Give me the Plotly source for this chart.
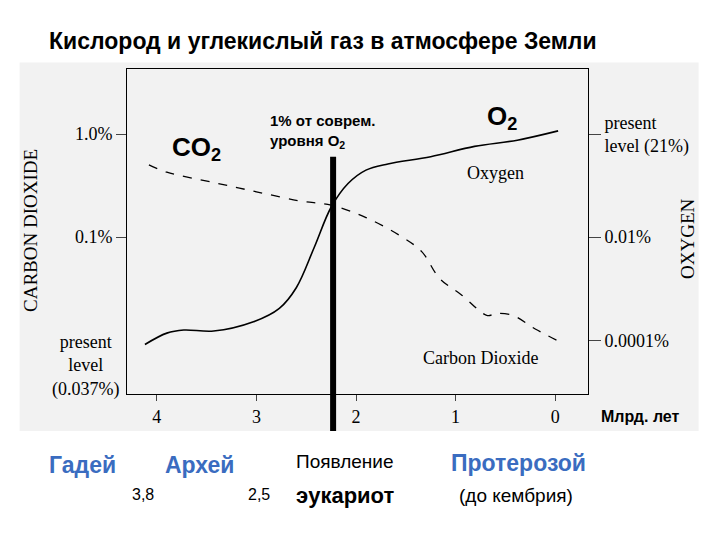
import plotly.graph_objects as go

# time, billions of years ago; level in decades (0 = lowest tick, 2 = top tick)
o2_time = [4.12, 3.90, 3.73, 3.43, 3.03, 2.77, 2.60, 2.42, 2.25, 2.08, 1.90, 1.68, 1.25, 0.81, 0.38, -0.03]
o2_level = [-0.04, 0.07, 0.10, 0.09, 0.18, 0.31, 0.51, 0.90, 1.29, 1.52, 1.65, 1.71, 1.78, 1.88, 1.94, 2.03]
co2_time = [4.08, 3.90, 3.43, 3.00, 2.56, 2.25, 1.90, 1.55, 1.34, 1.16, 0.94, 0.68, 0.60, 0.42, 0.20, -0.06]
co2_level = [1.70, 1.63, 1.53, 1.44, 1.35, 1.31, 1.19, 1.01, 0.86, 0.60, 0.44, 0.24, 0.26, 0.24, 0.11, -0.02]
x_ticks = [4, 3, 2, 1, 0]
left_vals = [2, 1]
left_labels = ["1.0%", "0.1%"]
right_vals = [2, 1, 0]
right_labels = ["present<br>level (21%)", "0.01%", "0.0001%"]
eukaryote_time = 2.23

serif = "Liberation Serif"
sans = "Liberation Sans"
blue = "#3a6cc0"
xr = [4.3, -0.33]
yr = [-0.52, 2.63]

fig = go.Figure()
fig.add_trace(go.Scatter(x=o2_time, y=o2_level, mode="lines", line=dict(color="black", width=1.6, shape="spline")))
fig.add_trace(go.Scatter(x=co2_time, y=co2_level, mode="lines",
                         line=dict(color="black", width=1.3, dash="dash", shape="spline")))
fig.add_trace(go.Scatter(x=[0], y=[0], yaxis="y2", mode="markers", marker=dict(opacity=0), hoverinfo="skip"))

fig.update_layout(
    width=720, height=540, showlegend=False,
    paper_bgcolor="white", plot_bgcolor="#ececec",
    font=dict(color="black"),
    margin=dict(l=119, r=140, t=61, b=154),
    xaxis=dict(range=xr, tickvals=x_ticks, ticks="outside", ticklen=6, showgrid=False, zeroline=False,
               showline=True, linecolor="black", mirror=True, tickfont=dict(family=serif, size=18, color="black")),
    yaxis=dict(range=yr, tickvals=left_vals, ticktext=left_labels, ticks="outside", ticklen=10, showgrid=False,
               zeroline=False, showline=True, linecolor="black", mirror=True,
               tickfont=dict(family=serif, size=18, color="black")),
    yaxis2=dict(range=yr, overlaying="y", side="right", tickvals=right_vals, ticktext=right_labels,
                ticks="outside", ticklen=12, showgrid=False, zeroline=False,
                tickfont=dict(family=serif, size=18, color="black")),
)

# scanned picture background
fig.add_shape(type="rect", xref="paper", yref="paper", x0=-0.233, x1=1.24, y0=-0.114, y1=1.02,
              fillcolor="#f2f2f2", line_width=0, layer="below")

# eukaryote line, in paper coords
px = (eukaryote_time - xr[0]) / (xr[1] - xr[0])
fig.add_shape(type="line", xref="paper", yref="paper", x0=px, x1=px, y0=0.73, y1=-0.114,
              line=dict(color="black", width=6))

ann = [
    dict(x=0.6, y=1.62, text="Oxygen", font=dict(family=serif, size=18)),
    dict(x=0.75, y=-0.17, text="Carbon Dioxide", font=dict(family=serif, size=18)),
    dict(x=3.6, y=1.86, text="<b>CO<sub>2</sub></b>", font=dict(family=sans, size=26)),
    dict(x=0.53, y=2.16, text="<b>O<sub>2</sub></b>", font=dict(family=sans, size=26)),
    dict(x=2.88, y=2.02, text="<b>1% от соврем.<br>уровня O<sub>2</sub></b>", xanchor="left", align="left",
         font=dict(family=sans, size=15)),
]
for a in ann:
    a.setdefault("xanchor", "center")
    a["font"]["color"] = "black"
    fig.add_annotation(xref="x", yref="y", showarrow=False, **a)

paper_txt = [
    (47, 40, "<b>Кислород и углекислый газ в атмосфере Земли</b>", 23, "black", sans, "left"),
    (85, 365, "present<br>level<br>(0.037%)", 18, "black", serif, "center"),
    (30, 230, "CARBON DIOXIDE", 19, "black", serif, "v"),
    (688, 238, "OXYGEN", 19, "black", serif, "v"),
    (640, 415, "<b>Млрд. лет</b>", 16, "black", sans, "center"),
    (47, 464, "<b>Гадей</b>", 23, blue, sans, "left"),
    (163, 464, "<b>Архей</b>", 23, blue, sans, "left"),
    (130, 493, "3,8", 16, "black", sans, "left"),
    (246, 493, "2,5", 16, "black", sans, "left"),
    (294, 461, "Появление", 19, "black", sans, "left"),
    (294, 494, "<b>эукариот</b>", 22, "black", sans, "left"),
    (449, 462, "<b>Протерозой</b>", 23, blue, sans, "left"),
    (457, 494, "(до кембрия)", 19, "black", sans, "left"),
]
for x, y, t, s, c, f, anc in paper_txt:
    fig.add_annotation(xref="paper", yref="paper", x=(x - 127) / 461, y=(393 - y) / 325, text=t,
                       showarrow=False, font=dict(family=f, size=s, color=c),
                       xanchor="center" if anc in ("center", "v") else "left",
                       textangle=-90 if anc == "v" else 0, yanchor="middle")

fig.write_html("out.html")
